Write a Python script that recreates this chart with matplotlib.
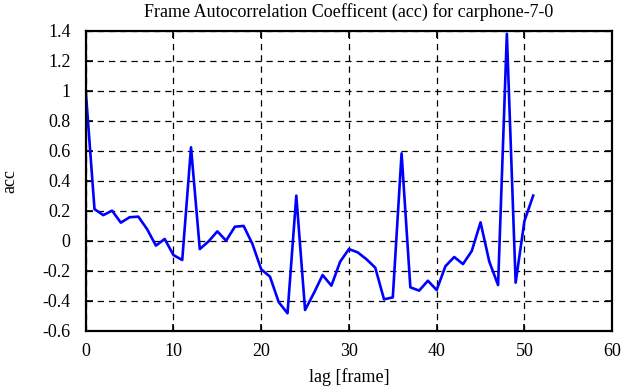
import matplotlib
matplotlib.use("Agg")
import matplotlib.pyplot as plt

lags = list(range(52))
acc = [1.0, 0.21, 0.17, 0.20, 0.12, 0.156, 0.16, 0.076, -0.033, 0.011,
       -0.096, -0.129, 0.622, -0.056, -0.005, 0.062, 0.0, 0.093, 0.098, -0.022,
       -0.191, -0.24, -0.41, -0.484, 0.30, -0.462, -0.35, -0.229, -0.30, -0.14,
       -0.056, -0.078, -0.124, -0.18, -0.391, -0.378, 0.582, -0.311, -0.333, -0.267,
       -0.329, -0.17, -0.109, -0.156, -0.069, 0.122, -0.14, -0.296, 1.378, -0.28,
       0.13, 0.30]

xticks = [0, 10, 20, 30, 40, 50, 60]
yticks = [-0.6, -0.4, -0.2, 0, 0.2, 0.4, 0.6, 0.8, 1, 1.2, 1.4]
yticklabels = ["-0.6", "-0.4", "-0.2", "0", "0.2", "0.4", "0.6", "0.8", "1", "1.2", "1.4"]

plt.rcParams['font.family'] = ['Liberation Serif', 'DejaVu Serif']

fig = plt.figure(figsize=(6.35, 3.87), dpi=100)
ax = fig.add_axes([0.135, 0.1455, 0.829, 0.7755])
ax.plot(lags, acc, color='#0000ff', linewidth=1.9)
ax.set_xlim(0, 60)
ax.set_ylim(-0.6, 1.4)
ax.set_xticks(xticks)
ax.set_yticks(yticks)
ax.set_yticklabels(yticklabels)
ax.grid(True, color='black', linestyle=(0, (5, 4)), linewidth=0.9)
ax.tick_params(direction='in', top=True, right=True, length=5, width=1.2,
               labelsize=13)
ax.tick_params(axis='y', pad=11)
ax.tick_params(axis='x', pad=9)
for s in ax.spines.values():
    s.set_linewidth(1.6)
ax.set_xlabel("lag [frame]", fontsize=13, labelpad=6)
ax.set_ylabel("acc", fontsize=13, labelpad=17)
ax.set_title("Frame Autocorrelation Coefficent (acc) for carphone-7-0", fontsize=13, pad=10)
fig.savefig("out.png", dpi=100)
